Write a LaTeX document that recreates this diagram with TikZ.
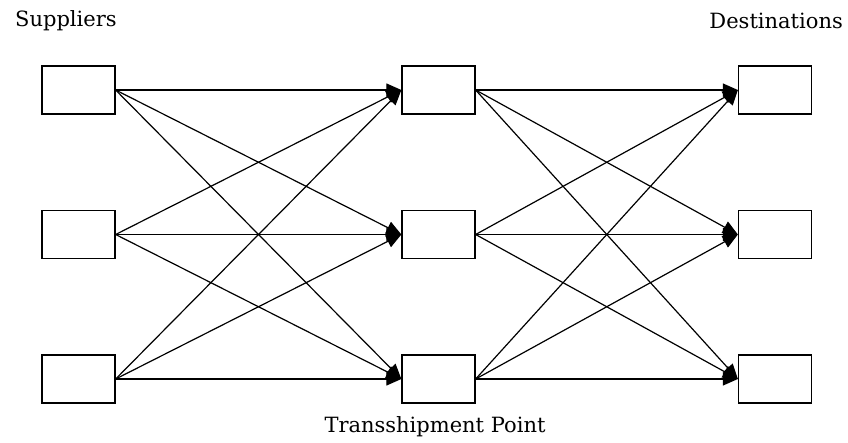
\documentclass[tikz,border=0pt]{standalone}
\usepackage{fontspec}
\setmainfont{DejaVu Serif}
\usetikzlibrary{arrows.meta}
\begin{document}
\begin{tikzpicture}[x=1pt,y=-1pt,
  cell/.style={draw, line width=1.3pt, minimum width=73pt, minimum height=48pt, inner sep=0pt, fill=white},
  link/.style={line width=1.2pt, -{Triangle[length=15pt,width=13pt]}},
  caption/.style={font=\fontsize{21}{24}\selectfont, inner sep=0pt}]
\useasboundingbox (0,0) rectangle (848,442);
% columns of boxes
\foreach \r/\y in {1/90,2/234.5,3/379}{
  \node[cell] (s\r) at (78.5,\y) {};
  \node[cell] (t\r) at (438.5,\y) {};
  \node[cell] (d\r) at (775,\y) {};
}
% every supplier feeds every transshipment point, and so on
\foreach \i in {1,2,3}{
  \foreach \j in {1,2,3}{
    \draw[link] (s\i.east) -- (t\j.west);
    \draw[link] (t\i.east) -- (d\j.west);
  }
}
\node[caption, anchor=west] (lsup) at (15,21) {Suppliers};
\node[caption, anchor=east] (ldst) at (843,21) {Destinations};
\node[caption] (ltrn) at (435,427) {Transshipment Point};
\end{tikzpicture}
\end{document}
